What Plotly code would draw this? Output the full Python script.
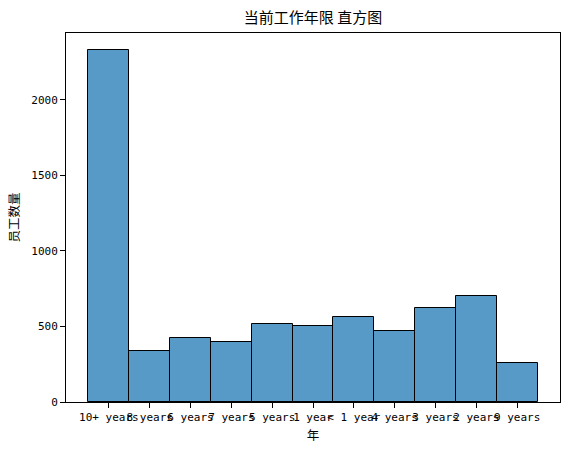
import plotly.graph_objects as go

categories = ["10+ years", "8 years", "6 years", "7 years", "5 years", "1 year",
              "< 1 year", "4 years", "3 years", "2 years", "9 years"]
counts = [2331, 338, 424, 397, 516, 503, 563, 470, 622, 702, 258]

positions = list(range(len(categories)))

fig = go.Figure()
fig.add_trace(go.Bar(
    x=positions, y=counts, width=1,
    marker=dict(color="rgba(31,119,180,0.75)", line=dict(color="black", width=1)),
    hoverinfo="skip",
))

tick_font = dict(family="DejaVu Sans Mono, Noto Sans CJK SC", size=11, color="black")
cjk_font = dict(family="Noto Sans CJK SC", size=12.5, color="black")

fig.update_layout(
    width=571, height=453,
    margin=dict(l=66, r=11, t=33, b=51, autoexpand=False),
    paper_bgcolor="white", plot_bgcolor="white",
    showlegend=False,
    bargap=0,
    font=dict(family="DejaVu Sans Mono, Noto Sans CJK SC", size=11, color="black"),
    title=dict(text="当前工作年限 直方图", xref="paper", x=0.5, xanchor="center",
               yref="container", y=1 - 18 / 453, yanchor="middle",
               font=dict(family="Noto Sans CJK SC", size=15, color="black")),
)
fig.update_xaxes(
    automargin=False,
    range=[-1.05, 11.05], tickmode="array", tickvals=positions, ticktext=categories,
    tickangle=0, showgrid=False, zeroline=False,
    showline=True, linecolor="black", linewidth=1, mirror=True,
    ticks="outside", ticklen=5, tickcolor="black",
    tickfont=tick_font,
    title=dict(text="年", font=cjk_font, standoff=8),
)
fig.update_yaxes(
    automargin=False,
    range=[0, 2443], tickvals=[0, 500, 1000, 1500, 2000],
    showgrid=False, zeroline=False,
    showline=True, linecolor="black", linewidth=1, mirror=True,
    ticks="outside", ticklen=5, tickcolor="black",
    tickfont=tick_font,
    title=dict(text="员工数量", font=cjk_font, standoff=8),
)

fig.write_html("out.html", config={"displayModeBar": False},
               post_script="document.body.style.margin='0';")
